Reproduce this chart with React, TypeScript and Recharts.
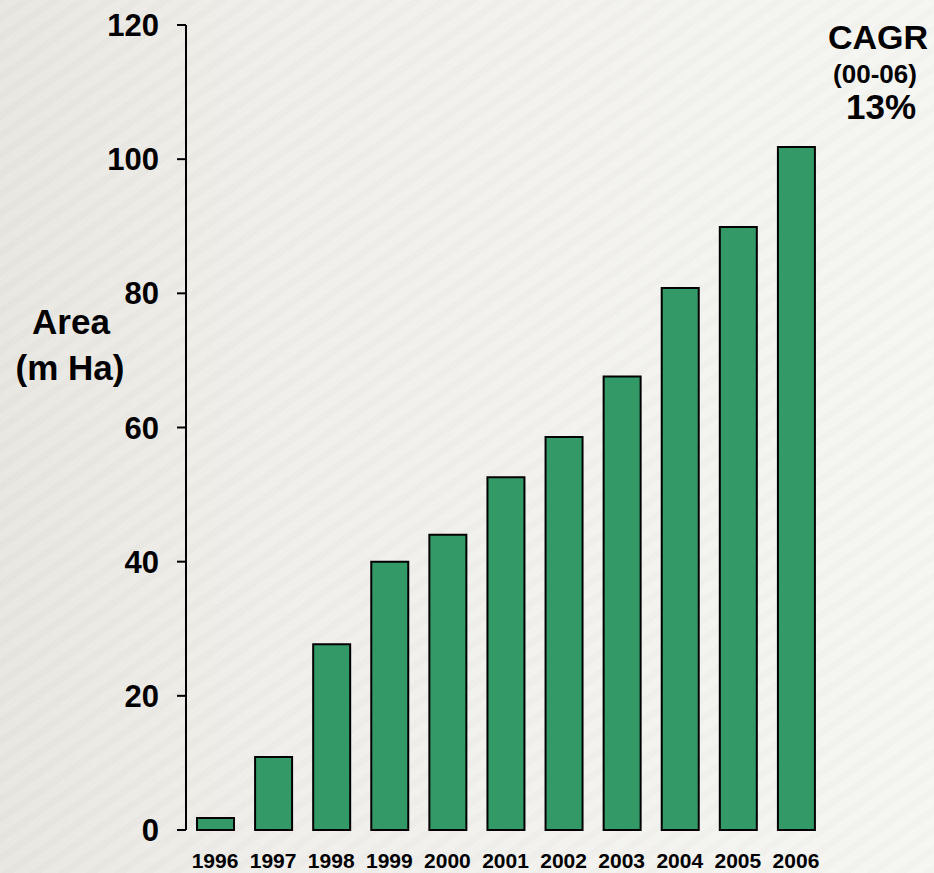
import React from 'react';
import { BarChart, Bar, XAxis, YAxis } from 'recharts';

// values (million hectares)
const years = ['1996', '1997', '1998', '1999', '2000', '2001', '2002', '2003', '2004', '2005', '2006'];
const areaValues = [1.8, 10.9, 27.7, 40.0, 44.0, 52.6, 58.6, 67.6, 80.8, 89.9, 101.8];
const yTicks = [0, 20, 40, 60, 80, 100, 120];
const edgeTicks = [0, 1, 2, 3, 4, 5, 6, 7, 8, 9, 10, 11];

const data = years.map((year, i) => ({ year, area: areaValues[i] }));

const FONT = 'Arial, "Liberation Sans", Helvetica, sans-serif';
const W = 934;
const H = 873;

export default function App() {
  return (
    <div
      style={{
        position: 'absolute',
        left: 0,
        top: 0,
        width: W,
        height: H,
        fontFamily: FONT,
        background:
          'repeating-linear-gradient(-35deg, rgba(0,0,0,0.012) 0px, rgba(0,0,0,0.012) 7px, rgba(255,255,255,0.05) 7px, rgba(255,255,255,0.05) 16px), linear-gradient(90deg, #e7e6e1 0%, #efeeea 30%, #f5f5f2 100%)',
      }}
    >
      <BarChart
        width={W}
        height={H}
        data={data}
        margin={{ top: 25, right: 109, left: 86, bottom: 3 }}
        style={{ fontFamily: FONT }}
      >
        {/* boundary ticks, Excel style: ticks between the categories */}
        <XAxis
          xAxisId="edge"
          type="number"
          domain={[0, 11]}
          ticks={edgeTicks}
          allowDataOverflow
          height={0}
          tick={false}
          tickSize={7}
          axisLine={{ stroke: '#000', strokeWidth: 2 }}
          tickLine={{ stroke: '#000', strokeWidth: 2 }}
        />
        <XAxis
          xAxisId="cat"
          dataKey="year"
          height={40}
          axisLine={false}
          tickLine={false}
          tickSize={7}
          tickMargin={16}
          interval={0}
          tick={{ fontSize: 21, fontWeight: 'bold', fill: '#000', fontFamily: FONT }}
        />
        <YAxis
          type="number"
          domain={[0, 120]}
          ticks={yTicks}
          width={100}
          tickSize={9}
          tickMargin={18}
          axisLine={{ stroke: '#000', strokeWidth: 2 }}
          tickLine={{ stroke: '#000', strokeWidth: 2 }}
          tick={{ fontSize: 31, fontWeight: 'bold', fill: '#000', fontFamily: FONT }}
        />
        <Bar
          xAxisId="cat"
          dataKey="area"
          fill="#339966"
          stroke="#000"
          strokeWidth={2}
          barSize={37}
          isAnimationActive={false}
        />
      </BarChart>
      <svg
        width={W}
        height={H}
        style={{ position: 'absolute', left: 0, top: 0, pointerEvents: 'none' }}
        fontFamily={FONT}
        fontWeight="bold"
        fill="#000"
      >
        <text x={71} y={334} textAnchor="middle" fontSize={35}>Area</text>
        <text x={70} y={380} textAnchor="middle" fontSize={35}>(m Ha)</text>
        <text x={878} y={49} textAnchor="middle" fontSize={34}>CAGR</text>
        <text x={875} y={83} textAnchor="middle" fontSize={26}>(00-06)</text>
        <text x={881} y={119} textAnchor="middle" fontSize={35}>13%</text>
      </svg>
    </div>
  );
}
